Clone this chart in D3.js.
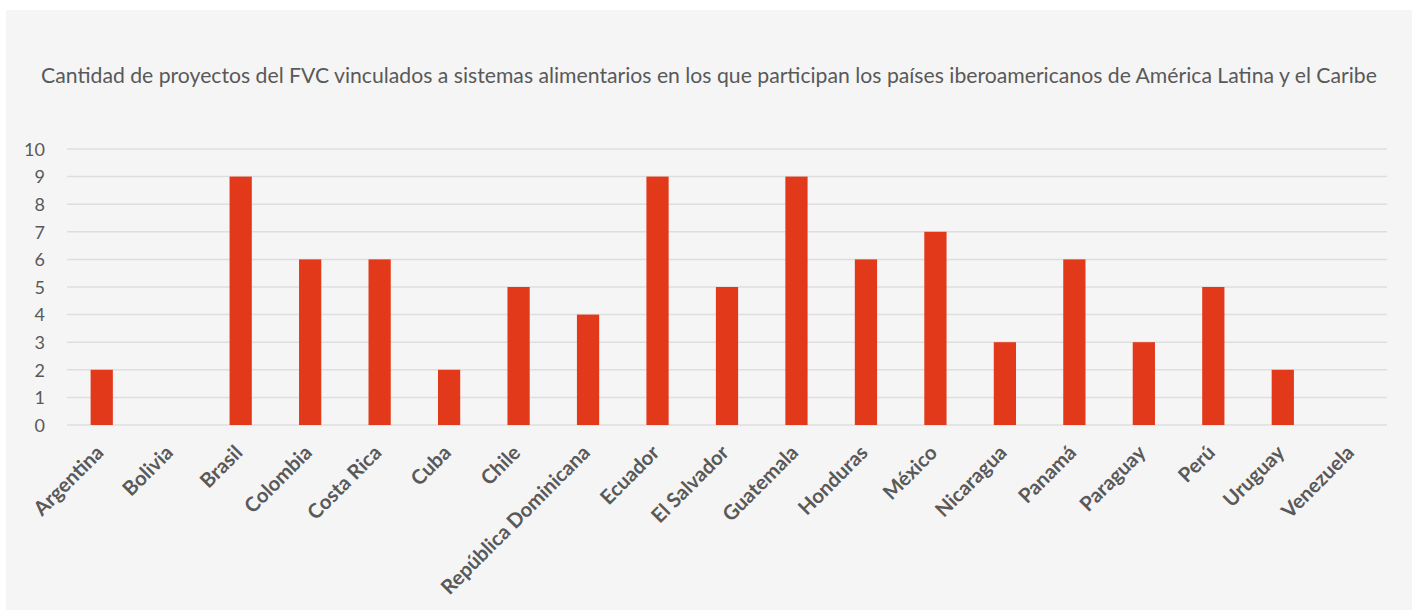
<!DOCTYPE html>
<html><head><meta charset="utf-8">
<script src="https://cdn.jsdelivr.net/npm/d3@7"></script>
<style>body{margin:0;background:#fff;}svg{display:block;}</style>
</head><body>
<script>
const categories = ["Argentina","Bolivia","Brasil","Colombia","Costa Rica","Cuba","Chile","República Dominicana","Ecuador","El Salvador","Guatemala","Honduras","México","Nicaragua","Panamá","Paraguay","Perú","Uruguay","Venezuela"];
const values = [2,0,9,6,6,2,5,4,9,5,9,6,7,3,6,3,5,2,0];
const yTicks = [0,1,2,3,4,5,6,7,8,9,10];
const title = "Cantidad de proyectos del FVC vinculados a sistemas alimentarios en los que participan los países iberoamericanos de América Latina y el Caribe";

const W = 1416, H = 610;
const svg = d3.select("body").append("svg").attr("width", W).attr("height", H);
svg.append("rect").attr("x",6).attr("y",10).attr("width",1406).attr("height",600).attr("fill","#f5f5f5");

const font = "Lato, 'Open Sans', sans-serif";
svg.append("text").attr("x", 709).attr("y", 83).attr("text-anchor","middle")
  .attr("font-family", font).attr("font-size", 21.2).attr("fill","#595959").text(title);

const x = d3.scaleBand().domain(categories).range([67,1387]).paddingInner(0.68).paddingOuter(0.34);
const y = d3.scaleLinear().domain([0,10]).range([425,149]);

const grid = svg.append("g");
grid.selectAll("line").data(yTicks).join("line")
  .attr("x1",67).attr("x2",1387).attr("y1",d=>y(d)).attr("y2",d=>y(d))
  .attr("stroke","#dedede").attr("stroke-width",1.5);

const yAxis = svg.append("g").attr("transform","translate(45,0)")
  .call(d3.axisLeft(y).tickValues(yTicks).tickSize(0).tickPadding(0));
yAxis.select(".domain").remove();
yAxis.selectAll("text").attr("font-family",font).attr("font-size",18).attr("fill","#595959").attr("dy","0.35em");

svg.append("g").selectAll("rect").data(categories).join("rect")
  .attr("x", d=>x(d)).attr("width", x.bandwidth())
  .attr("y", (d,i)=>y(values[i])).attr("height",(d,i)=>y(0)-y(values[i]))
  .attr("fill","#e2391a");

const xAxis = svg.append("g").attr("transform","translate(0,425)")
  .call(d3.axisBottom(x).tickSize(0).tickPadding(0));
xAxis.select(".domain").remove();
xAxis.selectAll("text")
  .attr("font-family",font).attr("font-size",20.3).attr("font-weight","bold").attr("fill","#595959")
  .attr("text-anchor","end").attr("dy",null).attr("y",0)
  .attr("transform", d=>`translate(${x.bandwidth()/2-8},29) rotate(-45)`);
</script>
</body></html>
